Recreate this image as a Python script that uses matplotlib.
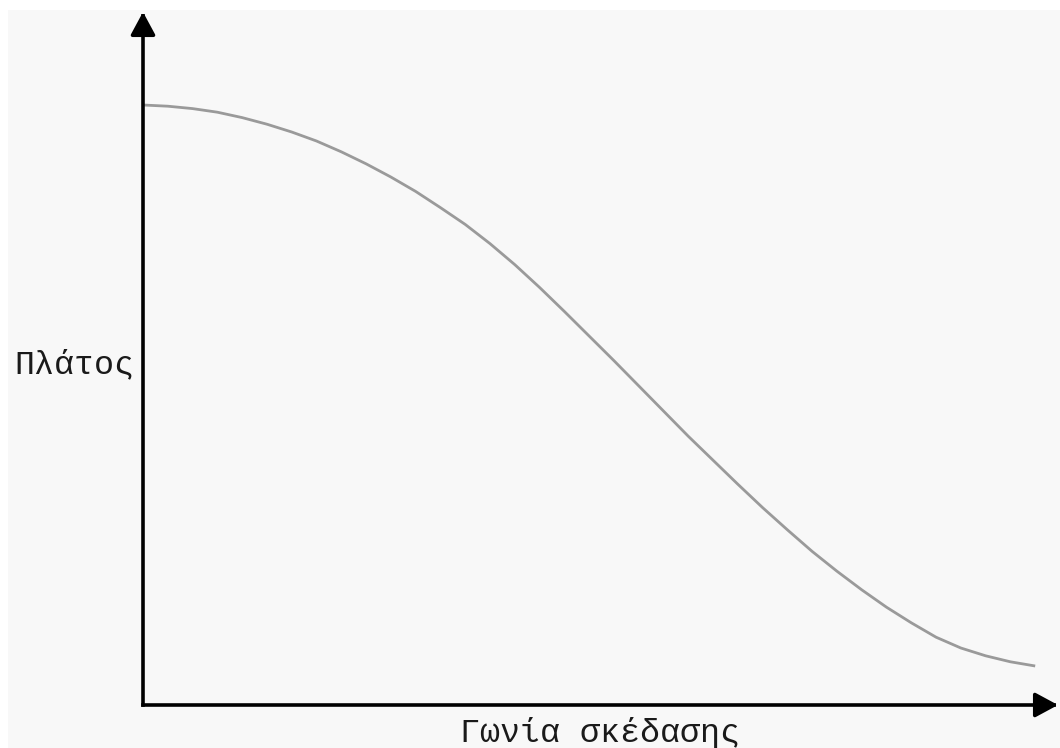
import matplotlib
matplotlib.use("Agg")
import matplotlib.pyplot as plt
from matplotlib.patches import Rectangle

# scattering angle (deg) and relative amplitude
angle = [0, 5, 10, 15, 20, 25, 30, 35, 40, 45, 50, 55, 60, 65, 70, 75, 80, 85, 90,
         95, 100, 105, 110, 115, 120, 125, 130, 135, 140, 145, 150, 155, 160, 165,
         170, 175, 180]
amplitude = [1.000, 0.998, 0.994, 0.988, 0.979, 0.968, 0.955, 0.940, 0.922, 0.902,
             0.880, 0.856, 0.829, 0.801, 0.769, 0.734, 0.696, 0.656, 0.615, 0.574,
             0.532, 0.490, 0.448, 0.408, 0.368, 0.329, 0.292, 0.256, 0.223, 0.192,
             0.163, 0.137, 0.113, 0.095, 0.082, 0.072, 0.065]

x_label = "Γωνία σκέδασης"
y_label = "Πλάτος"

W, H = 1060, 748
fig = plt.figure(figsize=(W / 100, H / 100), dpi=100, facecolor="white")

# light grey backdrop with a thin white margin top/left
fig.patches.append(Rectangle((8 / W, 0), 1 - 8 / W, 1 - 10 / H,
                             transform=fig.transFigure, facecolor="#f8f8f8",
                             edgecolor="none", zorder=-5))

# axes box: origin at (143, 705) px, arrow tips at x=1058 and y=12
left, bottom = 143 / W, (H - 705) / H
ax = fig.add_axes([left, bottom, (1058 - 143) / W, (705 - 12) / H])
ax.set_facecolor("none")
ax.set_zorder(2)
ax.set_xlim(0, 184.6)
ax.set_ylim(0, 1.155)

ax.plot(angle, amplitude, color="#9a9a9a", lw=2.0, solid_joinstyle="round",
        solid_capstyle="butt", zorder=2)

for s in ax.spines.values():
    s.set_visible(False)
ax.set_xticks([])
ax.set_yticks([])

# axis lines with arrow heads
arrow = dict(arrowstyle="-|>,head_length=0.5,head_width=0.27", lw=2.6, color="black",
             mutation_scale=28, shrinkA=0, shrinkB=0, capstyle="projecting")
ax.annotate("", xy=(1, 0), xytext=(0, 0), xycoords="axes fraction",
            arrowprops=arrow, annotation_clip=False)
ax.annotate("", xy=(0, 1), xytext=(0, 0), xycoords="axes fraction",
            arrowprops=arrow, annotation_clip=False)

fnt = dict(family=["Liberation Mono", "DejaVu Sans Mono"], fontsize=24, color="#1a1a1a")
fig.text(74 / W, 1 - 365 / H, y_label, ha="center", va="center", zorder=3, **fnt)
fig.text(600 / W, 1 - 733 / H, x_label, ha="center", va="center", zorder=3, **fnt)

fig.savefig("out.png", dpi=100, facecolor=fig.get_facecolor())
